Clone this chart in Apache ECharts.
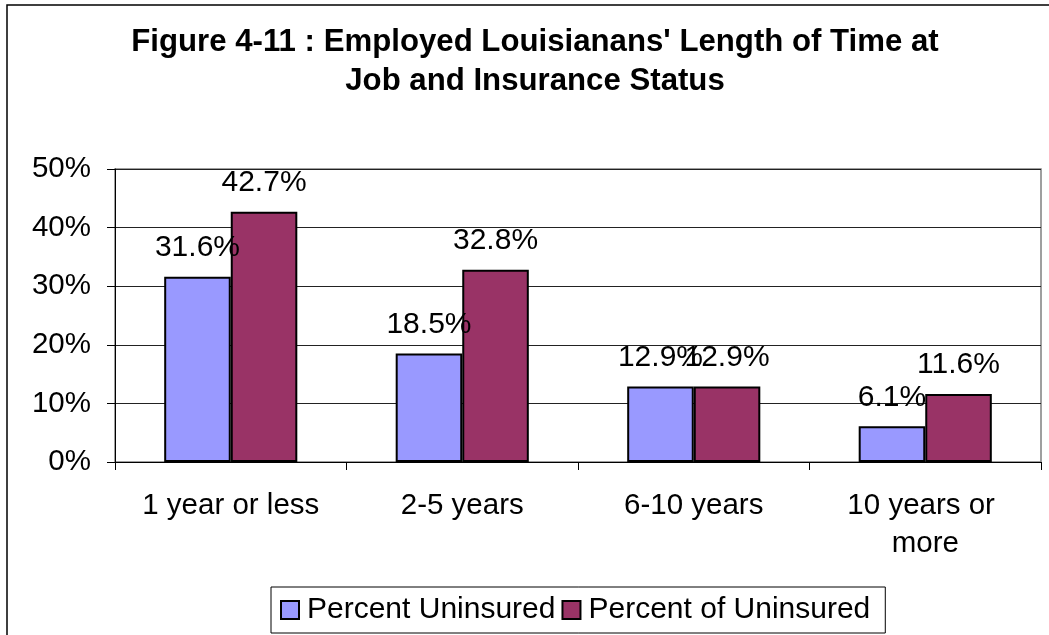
<!DOCTYPE html>
<html>
<head>
<meta charset="utf-8">
<script src="https://cdn.jsdelivr.net/npm/echarts@6/dist/echarts.min.js"></script>
<style>
html,body{margin:0;padding:0;background:#fff;}
#chart{width:1049px;height:635px;}
</style>
</head>
<body>
<div id="chart"></div>
<script>
var categories = ['1 year or less', '2-5 years', '6-10 years', '10 years or more'];
var percentUninsured = [31.6, 18.5, 12.9, 6.1];
var percentOfUninsured = [42.7, 32.8, 12.9, 11.6];
var seriesNames = ['Percent Uninsured', 'Percent of Uninsured'];
var titleText = "Figure 4-11 : Employed Louisianans' Length of Time at\nJob and Insurance Status";

var FONT = '"Liberation Sans", Arial, sans-serif';
var chart = echarts.init(document.getElementById('chart'), null, {renderer: 'canvas'});

var labelStyle = {
  show: true,
  position: 'top',
  distance: 14,
  formatter: function (p) { return p.value.toFixed(1) + '%'; },
  color: '#000',
  fontFamily: FONT,
  fontSize: 30
};

chart.setOption({
  backgroundColor: '#fff',
  animation: false,
  title: {
    text: titleText,
    left: 535,
    top: 23,
    padding: 0,
    textAlign: 'center',
    textStyle: {
      fontFamily: FONT,
      fontWeight: 'bold',
      fontSize: 31.2,
      lineHeight: 39,
      color: '#000'
    }
  },
  graphic: [{
    type: 'rect',
    shape: {x: 7, y: 5, width: 1100, height: 700},
    style: {fill: 'none', stroke: '#000', lineWidth: 1.5},
    silent: true,
    z: -1
  }],
  legend: {
    data: seriesNames,
    left: 271,
    top: 587,
    padding: [8, 15, 8, 9],
    itemGap: 6,
    itemWidth: 18,
    itemHeight: 18,
    borderColor: '#000',
    borderWidth: 1,
    backgroundColor: '#fff',
    icon: 'rect',
    textStyle: {fontFamily: FONT, fontSize: 30, color: '#000', padding: [0, 0, 0, 3]}
  },
  grid: {left: 115, right: 8, top: 169, bottom: 173, containLabel: false,
         show: true, borderColor: '#808080', borderWidth: 1.5},
  xAxis: {
    type: 'category',
    data: categories,
    axisLine: {lineStyle: {color: '#000', width: 1}},
    axisTick: {show: true, length: 8, lineStyle: {color: '#000'}},
    axisLabel: {
      interval: 0,
      fontFamily: FONT, fontSize: 29.5, color: '#000', margin: 25, lineHeight: 38,
      width: 200, overflow: 'break'
    },
    splitLine: {show: false}
  },
  yAxis: {
    type: 'value',
    min: 0,
    max: 50,
    interval: 10,
    axisLine: {show: true, lineStyle: {color: '#000', width: 1}},
    axisTick: {show: true, length: 8, lineStyle: {color: '#000'}},
    axisLabel: {fontFamily: FONT, fontSize: 29.5, color: '#000', margin: 24,
                formatter: '{value}%'},
    splitLine: {show: true, lineStyle: {color: '#222', width: 1}}
  },
  series: [{
    name: seriesNames[0],
    type: 'bar',
    data: percentUninsured,
    barGap: '0%',
    barCategoryGap: '42.5%',
    itemStyle: {color: '#9999FF', borderColor: '#000', borderWidth: 2},
    label: labelStyle
  }, {
    name: seriesNames[1],
    type: 'bar',
    data: percentOfUninsured,
    barGap: '0%',
    barCategoryGap: '42.5%',
    itemStyle: {color: '#993366', borderColor: '#000', borderWidth: 2},
    label: labelStyle
  }]
});
</script>
</body>
</html>
